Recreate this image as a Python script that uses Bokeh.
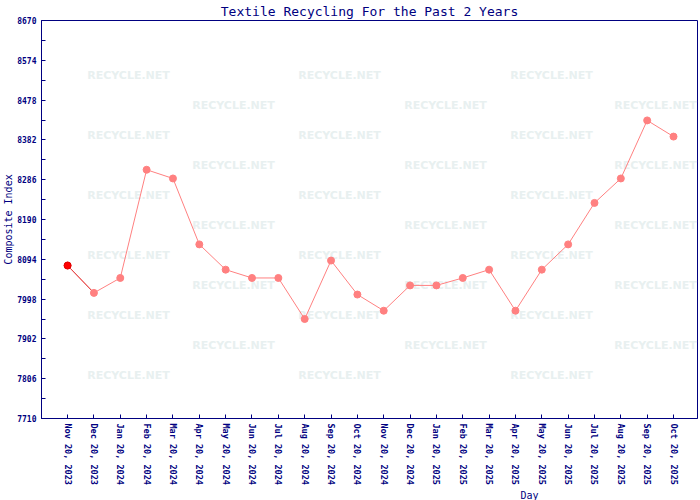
from bokeh.plotting import figure
from bokeh.models import Range1d, FixedTicker, ColumnDataSource, Title
from bokeh.core.properties import value
from bokeh.embed import file_html
from bokeh.resources import INLINE

# ---- data ----
month_labels = ["Nov 20, 2023", "Dec 20, 2023", "Jan 20, 2024", "Feb 20, 2024",
                "Mar 20, 2024", "Apr 20, 2024", "May 20, 2024", "Jun 20, 2024",
                "Jul 20, 2024", "Aug 20, 2024", "Sep 20, 2024", "Oct 20, 2024",
                "Nov 20, 2024", "Dec 20, 2024", "Jan 20, 2025", "Feb 20, 2025",
                "Mar 20, 2025", "Apr 20, 2025", "May 20, 2025", "Jun 20, 2025",
                "Jul 20, 2025", "Aug 20, 2025", "Sep 20, 2025", "Oct 20, 2025"]
composite = [8079, 8013, 8049, 8310, 8289, 8130, 8069, 8049, 8049, 7950, 8091, 8009,
             7970, 8031, 8031, 8049, 8069, 7970, 8069, 8130, 8230, 8289, 8429, 8390]
y_ticks = [7710, 7806, 7902, 7998, 8094, 8190, 8286, 8382, 8478, 8574, 8670]
y_minor = [7758, 7854, 7950, 8046, 8142, 8238, 8334, 8430, 8526, 8622]

NAVY = "#000080"
MONO = "DejaVu Sans Mono"

x_idx = list(range(len(month_labels)))
x_lo, x_hi = -0.99, 23.91
y_lo, y_hi = 7710, 8670

p = figure(width=700, height=500, output_backend="svg", toolbar_location=None,
           x_range=Range1d(x_lo, x_hi), y_range=Range1d(y_lo, y_hi),
           min_border_left=41, min_border_right=3, min_border_top=20,
           min_border_bottom=82)
p.title.text = "Textile Recycling For the Past 2 Years"
p.title.align = "center"
p.title.text_font = MONO
p.title.text_font_size = "13px"
p.title.text_font_style = "normal"
p.title.text_color = NAVY
p.title.standoff = 3
p.background_fill_color = "white"
p.border_fill_color = "white"
p.outline_line_color = NAVY
p.outline_line_width = 1
p.xgrid.visible = False
p.ygrid.visible = False

# ---- watermark (positions as fractions of the frame) ----
fw, fh = 656.0, 398.0
def fx(px):
    return x_lo + (px / fw) * (x_hi - x_lo)
def fy(py):
    return y_hi - (py / fh) * (y_hi - y_lo)
wm_x, wm_y = [], []
for r, py in enumerate([55, 85, 115, 145, 175, 205, 235, 265, 295, 325, 355]):
    cols = [87, 298, 510] if r % 2 == 0 else [192, 404, 614]
    for px in cols:
        wm_x.append(fx(px))
        wm_y.append(fy(py))
p.text(x=wm_x, y=wm_y, text=["RECYCLE.NET"] * len(wm_x),
       text_font=value("DejaVu Sans"), text_font_style="bold",
       text_font_size="11px", text_color="#e8f0f0",
       text_align="center", text_baseline="middle")

# ---- series ----
src = ColumnDataSource(dict(x=x_idx, y=composite))
p.line("x", "y", source=src, line_color="#ff8080", line_width=1)
p.line(x_idx[:2], composite[:2], line_color="#e04040", line_width=1)
p.scatter("x", "y", source=src, marker="circle", size=7,
          fill_color="#ff8080", line_color="#ff8080")
p.scatter(x_idx[:1], composite[:1], marker="circle", size=7,
          fill_color="#ff0000", line_color="#e00000")

# ---- axes ----
for ax in (p.xaxis[0], p.yaxis[0]):
    ax.axis_line_color = NAVY
    ax.major_tick_line_color = NAVY
    ax.minor_tick_line_color = NAVY
    ax.major_tick_in = 4
    ax.major_tick_out = 0
    ax.minor_tick_in = 4
    ax.minor_tick_out = 0
    ax.major_label_text_color = NAVY
    ax.major_label_text_font = MONO
    ax.major_label_text_font_style = "bold"
    ax.major_label_text_font_size = "8px"
    ax.axis_label_text_color = NAVY
    ax.axis_label_text_font = MONO
    ax.axis_label_text_font_style = "normal"
    ax.axis_label_text_font_size = "10px"

p.xaxis.major_label_text_font_size = "8.5px"
p.yaxis.ticker = FixedTicker(ticks=y_ticks, minor_ticks=y_minor)
p.yaxis.major_label_standoff = 5
p.yaxis.axis_label = "Composite Index"
p.yaxis.axis_label_standoff = 0
p.xaxis.ticker = FixedTicker(ticks=x_idx, minor_ticks=[])
p.xaxis.major_label_overrides = {i: s for i, s in enumerate(month_labels)}
p.xaxis.major_label_orientation = "vertical"
p.xaxis.major_label_standoff = 5

p.add_layout(Title(text="Day", align="left", offset=479, standoff=0,
                   text_font=MONO, text_font_size="10px",
                   text_font_style="normal", text_color=NAVY), "below")

open("out.html", "w").write(file_html(p, INLINE))
